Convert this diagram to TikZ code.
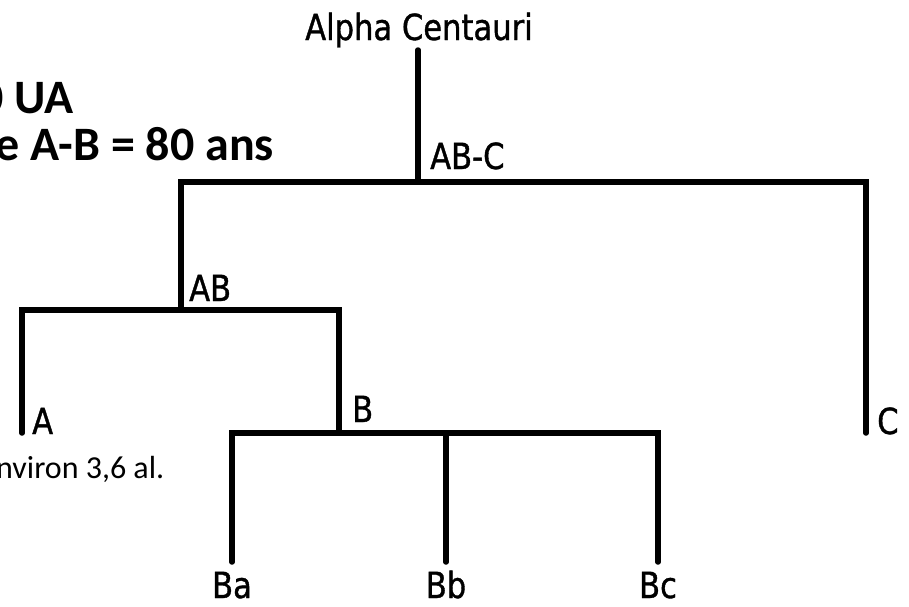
\documentclass[tikz,border=0pt]{standalone}
\usepackage{fontspec}
\newfontfamily\lblfont[FakeStretch=0.85,FakeBold=1]{DejaVu Sans}
\newfontfamily\notefont{Carlito}
\begin{document}
\begin{tikzpicture}[x=1pt,y=-1pt,
  branch/.style={line width=5.5pt, line cap=round, line join=miter},
  lbl/.style={inner sep=0pt, text depth=0pt, font=\lblfont\fontsize{36}{40}\selectfont},
  boldnote/.style={inner sep=0pt, anchor=base west, font=\notefont\bfseries\fontsize{48}{56}\selectfont},
  plainnote/.style={inner sep=0pt, anchor=base west, font=\notefont\fontsize{32}{38}\selectfont}]
\useasboundingbox (0,0) rectangle (909,606);
\clip (0,0) rectangle (909,606);

% junctions and leaves of the tree
\coordinate (top) at (418,50);
\coordinate (abc) at (418,182);
\coordinate (ab)  at (181,310);
\coordinate (a)   at (22,433);
\coordinate (b)   at (339,433);
\coordinate (c)   at (866,433);
\coordinate (ba)  at (232,562);
\coordinate (bb)  at (446,562);
\coordinate (bc)  at (658,562);

% branches
\draw[branch] (top) -- (abc);
\draw[branch] (ab) |- (abc) -| (c);
\draw[branch] (a) |- (ab) -| (b);
\draw[branch] (ba) |- (b) -| (bc);
\draw[branch] (bb) -- (bb |- b);

% labels
\node[lbl, anchor=base] (lroot) at (419,40) {Alpha Centauri};
\node[lbl, anchor=base west] (labc) at (430,169) {AB-C};
\node[lbl, anchor=base west] (lab) at (189,301) {AB};
\node[lbl, anchor=base west] (lb) at (352,422) {B};
\node[lbl, anchor=base west] (la) at (32,434) {A};
\node[lbl, anchor=base west] (lc) at (877,434) {C};
\node[lbl, anchor=base] (lba) at (232,598) {Ba};
\node[lbl, anchor=base] (lbb) at (446,598) {Bb};
\node[lbl, anchor=base] (lbc) at (658,598) {Bc};

% notes at the left edge
\node[boldnote] (n1) at (-21,113) {0 UA};
\node[boldnote] (n2) at (-5,160) {e A-B = 80 ans};
\node[plainnote] (n3) at (-4,478) {nviron 3,6 al.};
\end{tikzpicture}
\end{document}
